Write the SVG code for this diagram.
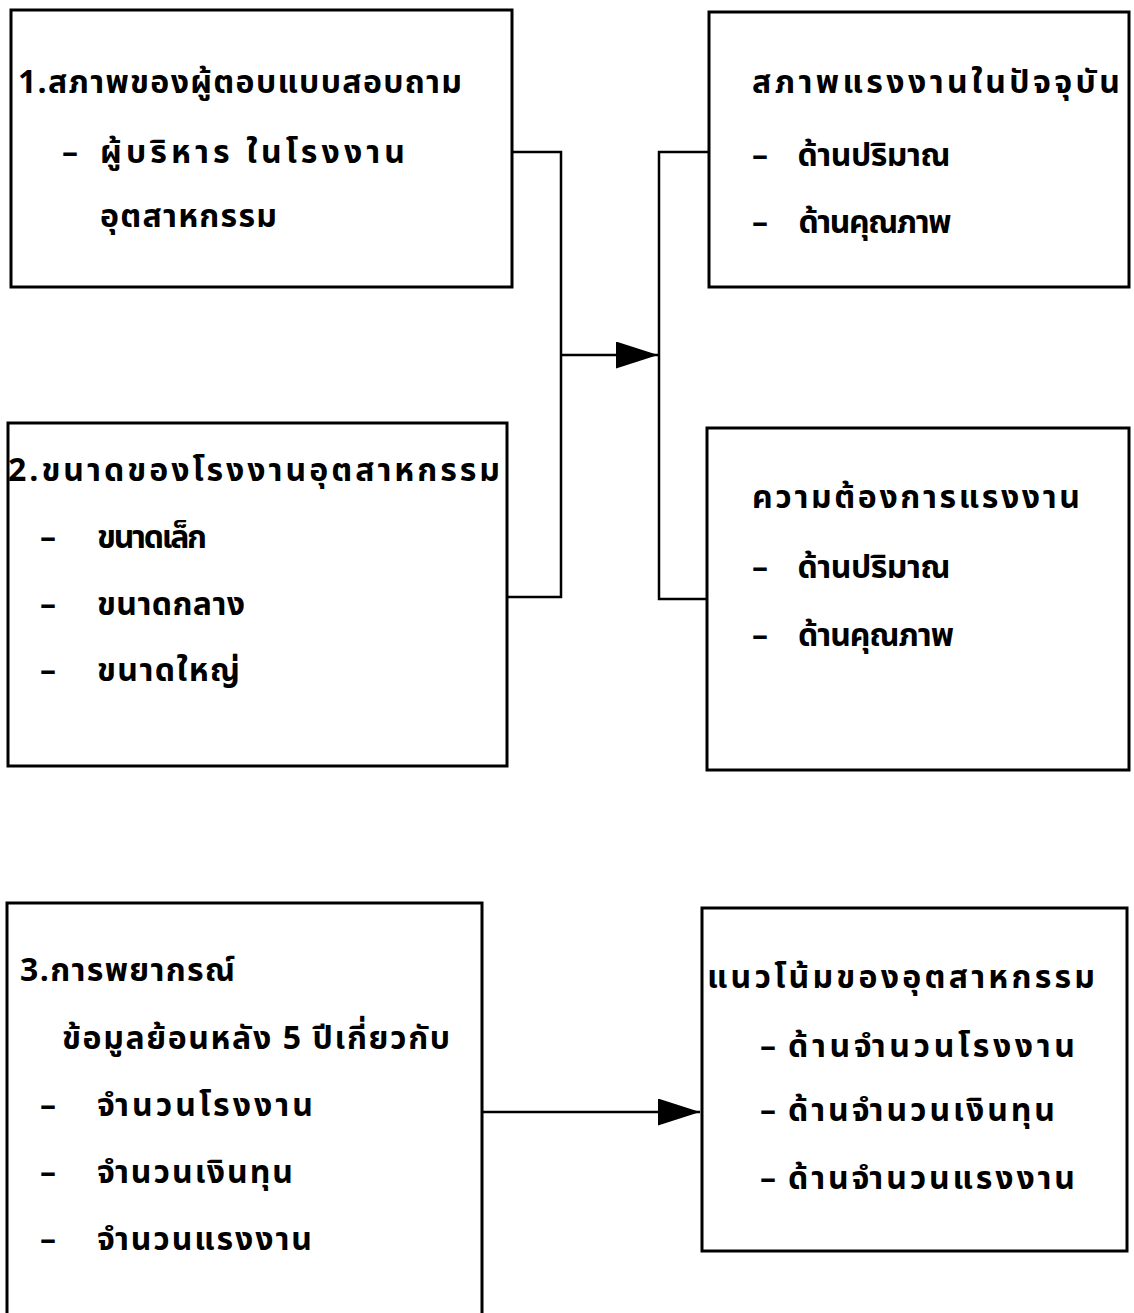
<svg xmlns="http://www.w3.org/2000/svg" width="1134" height="1313" viewBox="0 0 1134 1313">
<defs>
<style>
.box{fill:none;stroke:#000;stroke-width:3}
.con{fill:none;stroke:#000;stroke-width:2.5}
text{font-family:"Noto Sans Thai","Noto Sans","DejaVu Sans",sans-serif;font-size:32px;fill:#000;font-weight:bold}
</style>
<marker id="ah" markerUnits="userSpaceOnUse" markerWidth="44" markerHeight="28" refX="42" refY="13.5" orient="auto">
<path d="M0,0 L42,13.5 L0,27 Z" fill="#000"/>
</marker>
</defs>
<rect width="1134" height="1313" fill="#fff"/>
<g id="connectors">
<path class="con" d="M512,152 H561 V597 H507"/>
<path class="con" d="M709,152 H659 V599 H707"/>
<path class="con" d="M561,355 H658" marker-end="url(#ah)"/>
<path class="con" d="M482,1112 H700" marker-end="url(#ah)"/>
</g>
<g id="node1">
<rect class="box" x="11" y="10" width="501" height="277"/>
<text x="18" y="93" textLength="444" lengthAdjust="spacing">1.สภาพของผู้ตอบแบบสอบถาม</text>
<text x="62" y="163">–</text>
<text x="100" y="163" textLength="305" lengthAdjust="spacing">ผู้บริหาร ในโรงงาน</text>
<text x="100" y="227" textLength="177" lengthAdjust="spacing">อุตสาหกรรม</text>
</g>
<g id="node2">
<rect class="box" x="8" y="423" width="499" height="343"/>
<text x="8" y="481" textLength="492" lengthAdjust="spacing">2.ขนาดของโรงงานอุตสาหกรรม</text>
<text x="40" y="548">–</text>
<text x="97" y="548" textLength="110" lengthAdjust="spacing">ขนาดเล็ก</text>
<text x="40" y="615">–</text>
<text x="97" y="615" textLength="148" lengthAdjust="spacing">ขนาดกลาง</text>
<text x="40" y="681">–</text>
<text x="97" y="681" textLength="143" lengthAdjust="spacing">ขนาดใหญ่</text>
</g>
<g id="node-current">
<rect class="box" x="709" y="12" width="420" height="275"/>
<text x="752" y="93" textLength="368" lengthAdjust="spacing">สภาพแรงงานในปัจจุบัน</text>
<text x="752" y="166">–</text>
<text x="797" y="166" textLength="153" lengthAdjust="spacing">ด้านปริมาณ</text>
<text x="752" y="233">–</text>
<text x="797" y="233" textLength="153" lengthAdjust="spacing">ด้านคุณภาพ</text>
</g>
<g id="node-demand">
<rect class="box" x="707" y="428" width="422" height="342"/>
<text x="752" y="508" textLength="328" lengthAdjust="spacing">ความต้องการแรงงาน</text>
<text x="752" y="578">–</text>
<text x="797" y="578" textLength="153" lengthAdjust="spacing">ด้านปริมาณ</text>
<text x="752" y="646">–</text>
<text x="797" y="646" textLength="156" lengthAdjust="spacing">ด้านคุณภาพ</text>
</g>
<g id="node3">
<rect class="box" x="7" y="903" width="475" height="440"/>
<text x="20" y="981" textLength="215" lengthAdjust="spacing">3.การพยากรณ์</text>
<text x="62" y="1049" textLength="388" lengthAdjust="spacing">ข้อมูลย้อนหลัง 5 ปีเกี่ยวกับ</text>
<text x="40" y="1116">–</text>
<text x="97" y="1116" textLength="216" lengthAdjust="spacing">จำนวนโรงงาน</text>
<text x="40" y="1183">–</text>
<text x="97" y="1183" textLength="196" lengthAdjust="spacing">จำนวนเงินทุน</text>
<text x="40" y="1250">–</text>
<text x="97" y="1250" textLength="215" lengthAdjust="spacing">จำนวนแรงงาน</text>
</g>
<g id="node-trend">
<rect class="box" x="702" y="908" width="425" height="343"/>
<text x="707" y="988" textLength="388" lengthAdjust="spacing">แนวโน้มของอุตสาหกรรม</text>
<text x="760" y="1057">–</text>
<text x="788" y="1057" textLength="287" lengthAdjust="spacing">ด้านจำนวนโรงงาน</text>
<text x="760" y="1121">–</text>
<text x="788" y="1121" textLength="267" lengthAdjust="spacing">ด้านจำนวนเงินทุน</text>
<text x="760" y="1189">–</text>
<text x="788" y="1189" textLength="287" lengthAdjust="spacing">ด้านจำนวนแรงงาน</text>
</g>
</svg>
